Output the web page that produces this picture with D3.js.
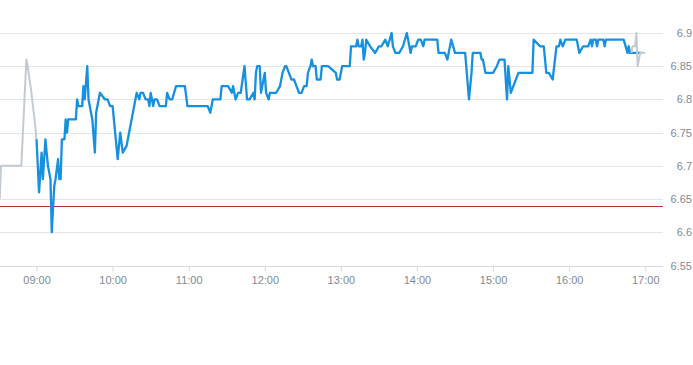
<!DOCTYPE html>
<html>
<head>
<meta charset="utf-8">
<script src="https://cdn.jsdelivr.net/npm/d3@7"></script>
<style>
  body { margin: 0; background: #fff; }
  text { font-family: "Liberation Sans", Arial, sans-serif; }
</style>
</head>
<body>
<div id="chart-area"></div>
<script>
// --- Data ---
var preTimes = ["08:31", "08:32", "08:48", "08:52", "08:53", "08:56", "08:59", "09:00"];
var preValues = [6.65, 6.70, 6.70, 6.86, 6.85, 6.81, 6.76, 6.74];

var sessionTimes = [
  "09:00", "09:02", "09:04", "09:05", "09:07", "09:09", "09:11", "09:12", "09:14", "09:15",
  "09:17", "09:18", "09:19", "09:20", "09:22", "09:23", "09:24", "09:25", "09:31", "09:32",
  "09:33", "09:36", "09:37", "09:38", "09:40", "09:41", "09:43", "09:44", "09:46", "09:47",
  "09:50", "09:54", "09:56", "09:58", "10:00", "10:02", "10:04", "10:06", "10:08", "10:11",
  "10:12", "10:14", "10:15", "10:17", "10:19", "10:21", "10:22", "10:24", "10:26", "10:28",
  "10:29", "10:30", "10:32", "10:33", "10:35", "10:37", "10:42", "10:43", "10:45", "10:47",
  "10:50", "10:57", "10:59", "11:15", "11:17", "11:19", "11:25", "11:26", "11:31", "11:34",
  "11:35", "11:37", "11:39", "11:41", "11:44", "11:46", "11:48", "11:51", "11:52", "11:53",
  "11:54", "11:56", "11:57", "11:58", "12:00", "12:01", "12:03", "12:04", "12:09", "12:12",
  "12:14", "12:16", "12:17", "12:19", "12:21", "12:23", "12:25", "12:27", "12:29", "12:31",
  "12:33", "12:34", "12:36", "12:37", "12:38", "12:40", "12:41", "12:44", "12:45", "12:50",
  "12:56", "12:57", "12:59", "13:01", "13:07", "13:08", "13:12", "13:13", "13:14", "13:16",
  "13:17", "13:18", "13:19", "13:20", "13:23", "13:27", "13:30", "13:32", "13:35", "13:37",
  "13:40", "13:41", "13:43", "13:46", "13:49", "13:52", "13:55", "13:56", "13:59", "14:01",
  "14:03", "14:05", "14:06", "14:16", "14:17", "14:22", "14:24", "14:27", "14:30", "14:38",
  "14:41", "14:43", "14:44", "14:50", "14:51", "14:52", "14:54", "15:00", "15:03", "15:05",
  "15:09", "15:11", "15:12", "15:14", "15:20", "15:31", "15:32", "15:37", "15:40", "15:42",
  "15:44", "15:47", "15:50", "15:52", "15:53", "15:55", "15:57", "16:06", "16:08", "16:11",
  "16:15", "16:17", "16:18", "16:19", "16:21", "16:22", "16:23", "16:27", "16:28", "16:29",
  "16:43", "16:46", "16:47", "16:48", "16:58"
];
var sessionValues = [
  6.74, 6.66, 6.72, 6.68, 6.74, 6.70, 6.68, 6.60, 6.67, 6.68,
  6.71, 6.68, 6.68, 6.74, 6.74, 6.77, 6.75, 6.77, 6.77, 6.80,
  6.79, 6.79, 6.82, 6.80, 6.85, 6.80, 6.78, 6.77, 6.72, 6.78,
  6.81, 6.80, 6.80, 6.79, 6.79, 6.75, 6.71, 6.75, 6.72, 6.73,
  6.74, 6.76, 6.77, 6.79, 6.81, 6.80, 6.81, 6.81, 6.80, 6.80,
  6.79, 6.81, 6.79, 6.80, 6.80, 6.79, 6.79, 6.81, 6.80, 6.80,
  6.82, 6.82, 6.79, 6.79, 6.78, 6.80, 6.80, 6.82, 6.82, 6.81,
  6.82, 6.80, 6.81, 6.81, 6.85, 6.80, 6.80, 6.81, 6.80, 6.84,
  6.85, 6.85, 6.81, 6.82, 6.84, 6.81, 6.80, 6.81, 6.81, 6.82,
  6.84, 6.85, 6.85, 6.84, 6.83, 6.83, 6.82, 6.81, 6.81, 6.82,
  6.82, 6.84, 6.85, 6.86, 6.85, 6.85, 6.83, 6.83, 6.85, 6.85,
  6.84, 6.83, 6.83, 6.85, 6.85, 6.88, 6.88, 6.89, 6.88, 6.88,
  6.89, 6.86, 6.87, 6.89, 6.88, 6.87, 6.88, 6.88, 6.89, 6.88,
  6.90, 6.88, 6.87, 6.87, 6.88, 6.90, 6.87, 6.88, 6.88, 6.89,
  6.89, 6.88, 6.89, 6.89, 6.87, 6.87, 6.86, 6.89, 6.87, 6.87,
  6.80, 6.84, 6.87, 6.87, 6.86, 6.86, 6.84, 6.84, 6.85, 6.86,
  6.86, 6.80, 6.85, 6.81, 6.84, 6.84, 6.89, 6.88, 6.88, 6.84,
  6.84, 6.83, 6.88, 6.88, 6.89, 6.88, 6.89, 6.89, 6.87, 6.88,
  6.88, 6.89, 6.88, 6.89, 6.89, 6.88, 6.89, 6.89, 6.88, 6.89,
  6.89, 6.87, 6.88, 6.87, 6.87
];

var postTimes = ["16:49", "16:50", "16:52", "16:53", "16:54", "16:56", "17:00"];
var postValues = [6.87, 6.88, 6.88, 6.90, 6.85, 6.87, 6.87];

var refPrice = 6.64;
var yTicks = [6.55, 6.6, 6.65, 6.7, 6.75, 6.8, 6.85, 6.9];
var xTickLabels = ["09:00", "10:00", "11:00", "12:00", "13:00", "14:00", "15:00", "16:00", "17:00"];
var domainStart = "08:31:12";
var domainEnd = "17:14";

// --- Setup the canvas ---
var canvasWidth = 693;
var canvasHeight = 365;
var canvas = d3.select("#chart-area").append("svg")
  .attr("width", canvasWidth)
  .attr("height", canvasHeight);

var plotRight = 663;
var plotTop = 33;
var plotBottom = 265.5;
var labelColor = "#7f8a95";

var parseTime = function(s) {
  return d3.timeParse(s.length > 5 ? "%H:%M:%S" : "%H:%M")(s);
};

function toPoints(times, values) {
  return times.map(function(t, i) { return { time: parseTime(t), value: values[i] }; });
}

var preData = toPoints(preTimes, preValues);
var sessionData = toPoints(sessionTimes, sessionValues);
var postData = toPoints(postTimes, postValues);

// --- Scales ---
var xScale = d3.scaleTime()
  .domain([parseTime(domainStart), parseTime(domainEnd)])
  .range([0, plotRight]);

var yScale = d3.scaleLinear()
  .domain([6.55, 6.9])
  .range([plotBottom, plotTop]);

// --- Gridlines ---
canvas.append("g")
  .selectAll("line")
  .data(yTicks)
  .enter()
  .append("line")
    .attr("x1", 0)
    .attr("x2", plotRight)
    .attr("y1", function(d) { return Math.round(yScale(d)) + 0.5; })
    .attr("y2", function(d) { return Math.round(yScale(d)) + 0.5; })
    .attr("stroke", function(d) { return d === 6.55 ? "#d5d9de" : "#e3e5e8"; })
    .attr("stroke-width", 1);

// y labels on the right
canvas.append("g")
  .selectAll("text")
  .data(yTicks)
  .enter()
  .append("text")
    .attr("x", 692)
    .attr("y", function(d) { return yScale(d) + 4; })
    .attr("text-anchor", "end")
    .attr("font-size", "11px")
    .attr("fill", labelColor)
    .text(function(d) { return d3.format(".2~f")(d); });

// --- X Axis ---
var xAxis = d3.axisBottom(xScale)
  .tickValues(xTickLabels.map(parseTime))
  .tickFormat(d3.timeFormat("%H:%M"))
  .tickSize(5)
  .tickSizeOuter(0);

var xAxisGroup = canvas.append("g")
  .attr("transform", "translate(0," + (Math.round(plotBottom) + 0.5) + ")")
  .call(xAxis);

xAxisGroup.select(".domain").remove();
xAxisGroup.selectAll(".tick line").attr("stroke", "#d5d9de");
xAxisGroup.selectAll(".tick text")
  .attr("font-family", "Liberation Sans, Arial, sans-serif")
  .attr("font-size", "11px")
  .attr("fill", labelColor)
  .attr("dy", "0.71em")
  .attr("y", 10);

// --- Reference line ---
canvas.append("line")
  .attr("x1", 0)
  .attr("x2", plotRight)
  .attr("y1", Math.round(yScale(refPrice)) + 0.5)
  .attr("y2", Math.round(yScale(refPrice)) + 0.5)
  .attr("stroke", "#b8352a")
  .attr("stroke-width", 1);

// --- Price lines ---
var line = d3.line()
  .x(function(d) { return xScale(d.time); })
  .y(function(d) { return yScale(d.value); });

canvas.append("path")
  .datum(preData)
  .attr("d", line)
  .attr("fill", "none")
  .attr("stroke", "#c2cbd3")
  .attr("stroke-width", 2)
  .attr("stroke-linejoin", "round");

canvas.append("path")
  .datum(sessionData)
  .attr("d", line)
  .attr("fill", "none")
  .attr("stroke", "#1690e0")
  .attr("stroke-width", 2.3)
  .attr("stroke-linejoin", "round");

canvas.append("path")
  .datum(postData)
  .attr("d", line)
  .attr("fill", "none")
  .attr("stroke", "#c2cbd3")
  .attr("stroke-width", 2)
  .attr("stroke-linejoin", "round");
</script>
</body>
</html>
